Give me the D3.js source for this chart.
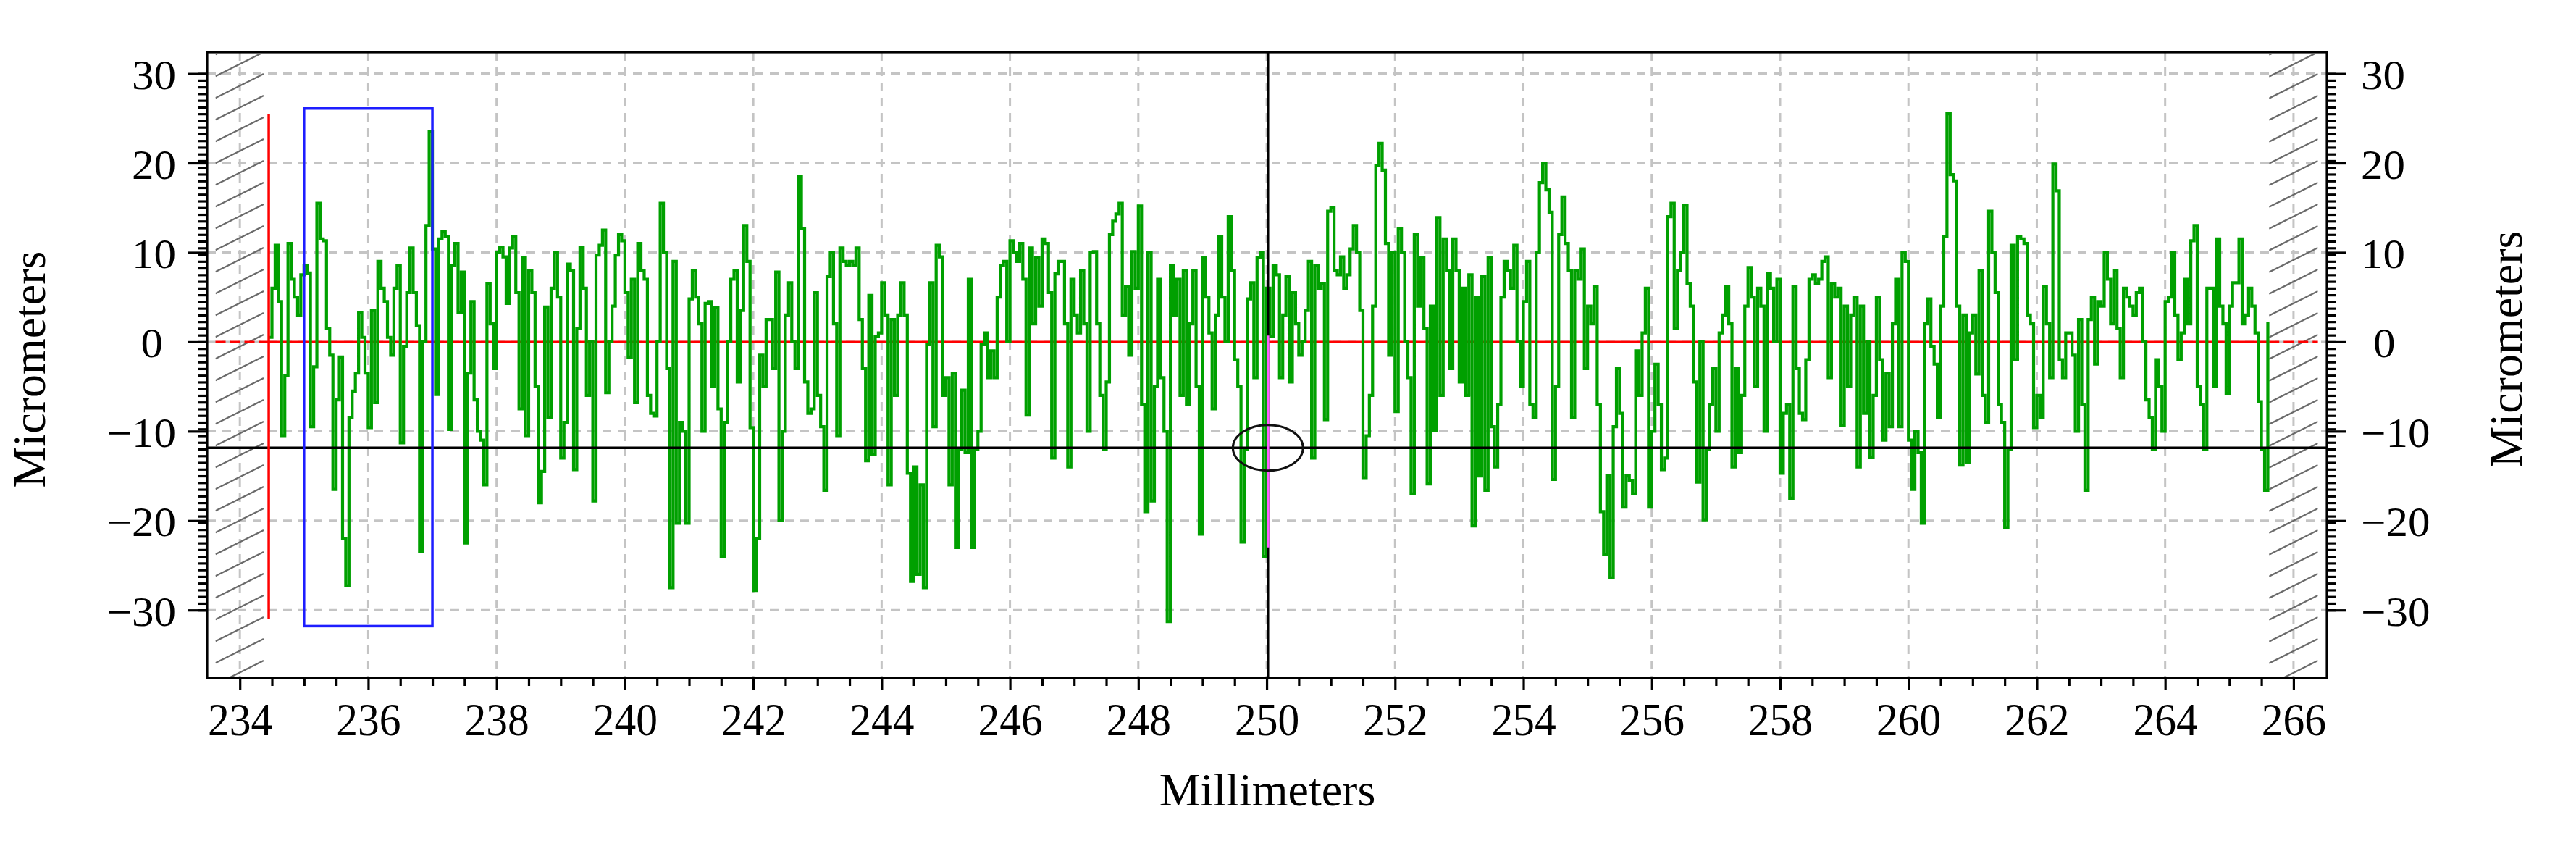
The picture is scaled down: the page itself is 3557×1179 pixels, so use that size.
<!DOCTYPE html>
<html>
<head>
<meta charset="utf-8">
<script src="https://cdn.jsdelivr.net/npm/d3@7/dist/d3.min.js"></script>
<style>
html,body{margin:0;padding:0;background:#fff;}
svg{display:block;}
</style>
</head>
<body>
<svg id="chart" width="3557" height="1179"></svg>
<script>
// ---------------- data ----------------
const xTickValues = [234,236,238,240,242,244,246,248,250,252,254,256,258,260,262,264,266];
const yTickValues = [30,20,10,0,-10,-20,-30];
const xTitle = "Millimeters";
const yTitle = "Micrometers";

// profile samples, one value (µm) every 0.05 mm, in six runs
const sampleStep = 0.05;
const run1Start = 234.45;
const run1 = [0.5,6,10.8,4.5,-10.5,-3.8,11,7,5,3,7.5,
  8.5,7.7,-9.5,-2.8,15.5,11.5,11.3,1.5,-1.5,-16.5,
  -6.5,-1.7,-22,-27.3,-8.5,-5.5,-3.5,3.3,0.5,-3.5,
  -9.6,3.5,-6.8,9,6,4.5,0.5,-1.5,6,8.5,
  -11.3,-0.5,5.5,10.5,5.5,1.8,-23.5,0,13,23.5,
  10.4,-5.9,11.5,12.3,11.8,-9.8,8.5,11,3.3,7.8,
  -22.5,-3.5,4.5,-6.5,-10,-11,-16,6.5,2,-3,
  10,10.6,9.5,4.3,10.5,11.8,5.5,-7.5,9.4,-10.5,
  8,5.5,-5,-18,-14.5,3.9,-8.5,6,10,5];
const run2Start = 239.00;
const run2 = [-13,-9,8.7,8,-14.3,1.5,10.6,6,-6,0,
  -17.8,9.7,10.8,12.5,-5.7,0,4,9.7,12,11.3,
  5.5,-1.7,7,-6.8,11,8,7,-6,-8,-8.3,
  0,15.5,10,-3,-27.5,9,-20.3,-9,-10,-20.3,
  4.8,8,5,2,-10,4.3,4.5,-5,3.8,-7.5,
  -24,-9,0,7,8,-4.5,3.5,13,9,-9.6,
  -27.8,-22,-1.5,-5,2.5,2.5,-3,7.8,-20,-10,
  3,6.6,0,-3,18.5,12.7,-4.5,-8,-7.5,5.5,
  -6,-9.5,-16.6,7.3,10,2,-10.5,10.5,9,8.5,
  9,8.5,10.5,2.5,-3,-13.3,5.2,-12.6,0.6,1,
  6.6,3,-16,2.5,-6,3,6.6,3,-14.7,-26.8];
const run3Start = 244.50;
const run3 = [-14,-26,-16,-27.5,-0.3,6.6,-9.5,10.8,9.5,-6,
  -4,-16,-3.5,-23,-12,-5.4,-12.4,7,-23,-12,
  -10,-0.3,1,-4,-1,-4,5,8.5,9,0,
  11.3,10,9,11,7,-8.2,10.5,2,9.4,4,
  11.5,11,5.5,-13,7.6,9,9,2,-14,7,
  3,1,8,2,-10,10,10.1,2,-6,-12,
  -4.5,12,13.5,14.3,15.5,3,6.2,-1.5,10.1,6,
  15.2,-7,-19,10,-17.8,-5,7,-4,-10,-31.3,
  8.5,3,7,-6,8,-7,2,8,-5,-21.5,
  9.4,5,1,-7.5,3,11.8,5,0,14,8,
  -2,-5,-22.4,-12,4.8,6.6,-4,9.4,10,-24];
const run4Start = 250.00;
const run4 = [6,0.6,8.5,7.5,-4,3,7.3,-4.5,5.5,2,
  -1.5,0,3.5,9,-13,8.5,6,6.5,-8.7,14.6,
  15,8,7.5,9.5,6,7.5,10.4,13,10,3.5,
  -15.2,-10.5,-6,4,19.7,22.2,19.2,11,-1.5,10,
  -7.8,12.7,10,0,-4,-17,12,4,9.4,1.5,
  -15.9,4,-9.9,13.9,-6,11.5,8,-3,11.5,8,
  -4.5,6,-6,7.5,-20.6,5,-15,7.3,-16.6,9.4,
  -9.5,-14,-7,5,9,8,6,10.8,0,-5,
  4.5,9,-7,-8.5,10,17.8,20,17,14.5,-15.4,
  -5,12,16.2,11,8,-8.5,8,7,10.4,-3,
  4,2,6.2,-7,-19,-23.8,-15,-26.4,-9.5,-3];
const run5Start = 255.50;
const run5 = [-8,-18.5,-15,-15.5,-17,-1,-6,1,6,-18.5,
  -10,-2.5,-7,-14.3,-13,14,15.5,1.5,8,10,
  15.3,6.5,4,-4.5,-15.7,0,-19.9,-12,-7,-3,
  -10,1,3,6.2,2,-14,-3,-12.4,-6,4,
  8.3,5,-5,6,4,-10,7.6,6,0,7,
  -14.7,-8,-7,-17.5,6.2,-3,-8,-8.7,-2,7,
  7.5,6.5,7,9,9.5,-4,6.5,5,6,-9.4,
  4,-5,3,5,-14,4,-8,0,-12.9,-6,
  5,-2,-11,-3.5,-9.5,2,7,-9.5,10,9,
  -11,-16.5,-10,-12.4,-20.3,2,4.8,-0.5,-2.5,-8.5,
  4,11.8,25.5,18.7,18,4,-13.8,3,-13.5,1];
const run6Start = 261.00;
const run6 = [3,-3.6,8,-6,-9,14.6,10,5.5,-7,-9,
  -20.8,-12,10.8,-2,11.8,11.5,11,3,2,-9.6,
  -6,-8.5,6.2,2,-4,19.9,16.9,-2,-4,1,
  1,-1.5,-10,2.5,-7,-16.6,2.5,5,-2.5,4.5,
  4,10,7,2,8,1.5,-4,6,5,4,
  3,5.5,6,0,-6.5,-8.5,-12,-2,-5,-10,
  4.5,5,10,3,-2,1,7,2,11.3,13,
  -5,-7,-12,6,6,-5,11.5,4,2,-5.8,
  4,6.6,6.6,11.5,2,3,6,4,1,-6.7,
  -12,-16.6,2.2];

// annotations (mm / µm)
const zeroLevel = 0;
const cursorLevel = -11.86;
const cursorPosition = 250.02;
const cursorMarkerSpan = [0.7, -23];
const startMarker = {x: 234.45, top: 25.5, bottom: -31};
const selectionBox = {x0: 235, x1: 237, top: 26.1, bottom: -31.8};
const dataExtent = [234.45, 265.62];
const excludedZones = [[233.62, 234.37], [265.62, 266.38]];
const cursorEllipse = {rx: 0.547, ry: 2.55};

// ---------------- drawing ----------------
const svg = d3.select("#chart");
const frame = {left: 286, top: 72, right: 3213, bottom: 936};
const x = d3.scaleLinear().domain([233.49, 266.52]).range([frame.left, frame.right]);
const y = d3.scaleLinear().domain([-37.6, 32.4]).range([frame.bottom, frame.top]);
const serif = "'Liberation Serif','Times New Roman',serif";

svg.append("rect").attr("width", 3557).attr("height", 1179).attr("fill", "#fff");

// grid
const grid = svg.append("g").attr("stroke", "#c4c4c4").attr("stroke-width", 3).attr("stroke-dasharray", "12,9");
grid.selectAll("line.v").data(xTickValues).join("line").attr("class", "v")
  .attr("x1", d => x(d)).attr("x2", d => x(d)).attr("y1", frame.top).attr("y2", frame.bottom);
grid.selectAll("line.h").data(yTickValues).join("line").attr("class", "h")
  .attr("x1", frame.left).attr("x2", frame.right).attr("y1", d => y(d)).attr("y2", d => y(d));

// hatched excluded zones
const defs = svg.append("defs");
excludedZones.forEach((z, i) => {
  const x0 = x(z[0]), x1 = x(z[1]);
  defs.append("clipPath").attr("id", "hz" + i).append("rect")
    .attr("x", x0).attr("y", frame.top + 2).attr("width", x1 - x0).attr("height", frame.bottom - frame.top - 4);
  const g = svg.append("g").attr("clip-path", `url(#hz${i})`)
    .attr("stroke", "#6a6a6a").attr("stroke-width", 2.3);
  const w = x1 - x0, slope = 0.5, gap = 30;
  g.selectAll("line").data(d3.range(-5, 40)).join("line")
    .attr("x1", x0).attr("x2", x1)
    .attr("y1", k => frame.top + k * gap + w * slope)
    .attr("y2", k => frame.top + k * gap);
});

// zero reference line
svg.append("line").attr("x1", x(dataExtent[0])).attr("x2", x(dataExtent[1]))
  .attr("y1", y(zeroLevel)).attr("y2", y(zeroLevel)).attr("stroke", "#ff0000").attr("stroke-width", 3);
svg.append("line").attr("x1", x(excludedZones[0][0])).attr("x2", x(dataExtent[0]))
  .attr("y1", y(zeroLevel)).attr("y2", y(zeroLevel))
  .attr("stroke", "#ff0000").attr("stroke-width", 3).attr("stroke-dasharray", "14,6");
svg.append("line").attr("x1", x(excludedZones[1][0])).attr("x2", x(excludedZones[1][1]))
  .attr("y1", y(zeroLevel)).attr("y2", y(zeroLevel))
  .attr("stroke", "#ff0000").attr("stroke-width", 3).attr("stroke-dasharray", "14,6");

// profile
const runs = [[run1Start, run1], [run2Start, run2], [run3Start, run3], [run4Start, run4], [run5Start, run5], [run6Start, run6]];
const points = runs.flatMap(([s, vals]) => vals.map((v, i) => [s + i * sampleStep, v]));
const line = d3.line().x(d => x(d[0])).y(d => y(d[1])).curve(d3.curveStepAfter);
svg.append("path").datum(points).attr("d", line)
  .attr("fill", "none").attr("stroke", "#00a000").attr("stroke-width", 4.2).attr("stroke-linejoin", "miter");

// cursors
svg.append("line").attr("x1", frame.left).attr("x2", frame.right)
  .attr("y1", y(cursorLevel)).attr("y2", y(cursorLevel)).attr("stroke", "#000").attr("stroke-width", 3.4);
svg.append("line").attr("x1", x(cursorPosition)).attr("x2", x(cursorPosition))
  .attr("y1", frame.top).attr("y2", frame.bottom).attr("stroke", "#000").attr("stroke-width", 3.4);
svg.append("line").attr("x1", x(cursorPosition)).attr("x2", x(cursorPosition))
  .attr("y1", y(cursorMarkerSpan[0])).attr("y2", y(cursorMarkerSpan[1])).attr("stroke", "#ff5cff").attr("stroke-width", 3.5);

// selection box and start marker
svg.append("rect").attr("x", x(selectionBox.x0)).attr("y", y(selectionBox.top))
  .attr("width", x(selectionBox.x1) - x(selectionBox.x0)).attr("height", y(selectionBox.bottom) - y(selectionBox.top))
  .attr("fill", "none").attr("stroke", "#1e1eff").attr("stroke-width", 3.5);
svg.append("line").attr("x1", x(startMarker.x)).attr("x2", x(startMarker.x))
  .attr("y1", y(startMarker.top)).attr("y2", y(startMarker.bottom)).attr("stroke", "#ff0000").attr("stroke-width", 3.5);

// cursor ellipse
svg.append("ellipse").attr("cx", x(cursorPosition)).attr("cy", y(cursorLevel))
  .attr("rx", x(cursorPosition + cursorEllipse.rx) - x(cursorPosition))
  .attr("ry", y(cursorLevel - cursorEllipse.ry) - y(cursorLevel))
  .attr("fill", "none").attr("stroke", "#111").attr("stroke-width", 3);

// frame
svg.append("rect").attr("x", frame.left).attr("y", frame.top)
  .attr("width", frame.right - frame.left).attr("height", frame.bottom - frame.top)
  .attr("fill", "none").attr("stroke", "#000").attr("stroke-width", 3.2);

// axes
const xMinor = d3.range(234, 266.01, 0.5).filter(v => !xTickValues.includes(v));
const yMinor = d3.range(-30, 30.01, 0.75);
function styleAxis(g) {
  g.select(".domain").remove();
  g.attr("font-size", null).attr("font-family", null);
  g.selectAll(".tick line").attr("stroke", "#000").attr("stroke-width", 3.2);
}
// bottom
svg.append("g").attr("transform", `translate(0,${frame.bottom})`)
  .call(d3.axisBottom(x).tickValues(xMinor).tickSize(11).tickFormat("")).call(styleAxis);
const gx = svg.append("g").attr("transform", `translate(0,${frame.bottom})`)
  .call(d3.axisBottom(x).tickValues(xTickValues).tickSize(17).tickFormat(d3.format("d"))).call(styleAxis);
gx.selectAll(".tick text").attr("y", null).attr("dy", null)
  .attr("transform", "translate(0,79) scale(0.93,1)")
  .style("font-family", serif).style("font-size", "64px").attr("fill", "#000").attr("text-anchor", "middle");
// left
svg.append("g").attr("transform", `translate(${frame.left},0)`)
  .call(d3.axisLeft(y).tickValues(yMinor).tickSize(12).tickFormat("")).call(styleAxis);
const gyl = svg.append("g").attr("transform", `translate(${frame.left},0)`)
  .call(d3.axisLeft(y).tickValues(yTickValues).tickSize(26).tickFormat(d3.format("d"))).call(styleAxis);
gyl.selectAll(".tick text").attr("x", null).attr("dy", null)
  .attr("transform", d => `translate(${d === 0 ? -61 : -43},21) scale(1.09,1)`)
  .style("font-family", serif).style("font-size", "56px").attr("fill", "#000").attr("text-anchor", "end");
// right
svg.append("g").attr("transform", `translate(${frame.right},0)`)
  .call(d3.axisRight(y).tickValues(yMinor).tickSize(12).tickFormat("")).call(styleAxis);
const gyr = svg.append("g").attr("transform", `translate(${frame.right},0)`)
  .call(d3.axisRight(y).tickValues(yTickValues).tickSize(27).tickFormat(d3.format("d"))).call(styleAxis);
gyr.selectAll(".tick text").attr("x", null).attr("dy", null)
  .attr("transform", d => `translate(${d === 0 ? 64 : 47},21) scale(1.09,1)`)
  .style("font-family", serif).style("font-size", "56px").attr("fill", "#000").attr("text-anchor", "start");

// titles
svg.append("text").attr("x", 1750).attr("y", 1112).attr("text-anchor", "middle")
  .style("font-family", serif).style("font-size", "64px").text(xTitle);
svg.append("text").attr("transform", "translate(62,510) rotate(-90)").attr("text-anchor", "middle")
  .style("font-family", serif).style("font-size", "64px").text(yTitle);
svg.append("text").attr("transform", "translate(3482,482) rotate(-90)").attr("text-anchor", "middle")
  .style("font-family", serif).style("font-size", "64px").text(yTitle);
</script>
</body>
</html>
